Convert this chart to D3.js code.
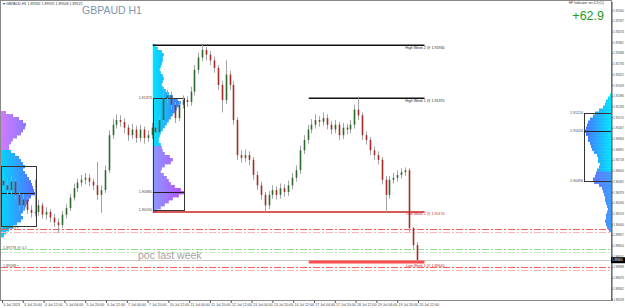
<!DOCTYPE html>
<html><head><meta charset="utf-8">
<script src="https://cdn.jsdelivr.net/npm/d3@7/dist/d3.min.js"></script>
<style>body{margin:0;background:#fff}svg{display:block;font-family:"Liberation Sans",Arial,sans-serif}</style>
</head><body><svg id="c" width="625" height="308"></svg>
<script>
// ---- data (3-hour aggregated H1 candles, GBPAUD) ----
const firstOpen = 1.9050;
const closes = [1.9045,1.9040,1.9049,1.9035,1.9024,1.9030,1.9019,1.9016,1.9017,1.9024,
1.9014,1.9017,1.9011,1.9006,1.9003,1.9014,1.9021,1.9032,1.9042,1.9048,
1.9051,1.9053,1.9049,1.9045,1.9035,1.9040,1.9061,1.9098,1.9109,1.9114,
1.9112,1.9106,1.9098,1.9104,1.9095,1.9104,1.9095,1.9098,1.9106,1.9101,
1.9114,1.9137,1.9140,1.9130,1.9116,1.9130,1.9135,1.9133,1.9144,1.9167,
1.9180,1.9188,1.9183,1.9177,1.9169,1.9151,1.9135,1.9162,1.9151,1.9114,
1.9077,1.9074,1.9077,1.9072,1.9056,1.9045,1.9035,1.9024,1.9035,1.9040,
1.9035,1.9042,1.9038,1.9045,1.9053,1.9061,1.9082,1.9093,1.9104,1.9109,
1.9114,1.9112,1.9116,1.9109,1.9104,1.9109,1.9098,1.9106,1.9104,1.9109,
1.9125,1.9119,1.9098,1.9093,1.9082,1.9077,1.9072,1.9051,1.9035,1.9051,
1.9053,1.9056,1.9059,1.9061,1.9000,1.8982,1.8966];
const highs = [1.9058,1.9053,1.9055,1.9052,1.9038,1.9036,1.9033,1.9024,1.9051,1.9030,
1.9027,1.9022,1.9020,1.9015,1.9010,1.9018,1.9025,1.9036,1.9047,1.9052,
1.9056,1.9058,1.9057,1.9052,1.9070,1.9045,1.9066,1.9103,1.9115,1.9120,
1.9119,1.9116,1.9109,1.9110,1.9108,1.9109,1.9107,1.9103,1.9111,1.9110,
1.9119,1.9149,1.9146,1.9144,1.9133,1.9134,1.9140,1.9139,1.9149,1.9172,
1.9185,1.9193,1.9191,1.9187,1.9181,1.9172,1.9155,1.9177,1.9166,1.9155,
1.9117,1.9082,1.9083,1.9081,1.9075,1.9060,1.9049,1.9038,1.9039,1.9045,
1.9044,1.9047,1.9046,1.9050,1.9058,1.9066,1.9087,1.9098,1.9109,1.9115,
1.9120,1.9118,1.9122,1.9120,1.9113,1.9114,1.9112,1.9111,1.9110,1.9114,
1.9130,1.9137,1.9122,1.9102,1.9096,1.9086,1.9081,1.9075,1.9055,1.9055,
1.9058,1.9061,1.9063,1.9064,1.9063,1.9001,1.8985];
const lows = [1.9040,1.9035,1.9036,1.9031,1.9019,1.9020,1.9015,1.9011,1.9012,1.9013,
1.9010,1.9009,1.9006,1.9001,1.8995,1.9000,1.9010,1.9018,1.9029,1.9038,
1.9044,1.9046,1.9044,1.9040,1.9030,1.9016,1.9037,1.9058,1.9094,1.9105,
1.9107,1.9100,1.9092,1.9094,1.9090,1.9091,1.9089,1.9091,1.9094,1.9096,
1.9098,1.9111,1.9132,1.9125,1.9111,1.9113,1.9126,1.9128,1.9129,1.9140,
1.9163,1.9176,1.9177,1.9172,1.9164,1.9146,1.9122,1.9131,1.9146,1.9109,
1.9072,1.9069,1.9070,1.9066,1.9051,1.9040,1.9030,1.9017,1.9020,1.9031,
1.9030,1.9031,1.9033,1.9034,1.9041,1.9049,1.9057,1.9078,1.9089,1.9100,
1.9105,1.9107,1.9108,1.9104,1.9099,1.9100,1.9093,1.9094,1.9099,1.9100,
1.9105,1.9114,1.9093,1.9088,1.9077,1.9072,1.9067,1.9046,1.9017,1.9031,
1.9047,1.9049,1.9052,1.9055,1.8996,1.8977,1.8964];
const barsPerCandle = 3;

const timeLabels = ["3 Jul 2023","3 Jul 20:00","4 Jul 12:00","5 Jul 04:00","5 Jul 20:00","6 Jul 12:00",
"7 Jul 04:00","7 Jul 20:00","10 Jul 12:00","11 Jul 04:00","11 Jul 20:00","12 Jul 12:00","13 Jul 04:00",
"13 Jul 20:00","14 Jul 12:00","17 Jul 04:00","17 Jul 20:00","18 Jul 12:00","19 Jul 04:00","19 Jul 20:00","20 Jul 12:00"];
const priceTicks = [1.92300,1.92187,1.92074,1.91961,1.91848,1.91735,1.91622,1.91509,1.91396,1.91283,
1.91170,1.91057,1.90944,1.90831,1.90718,1.90605,1.90492,1.90379,1.90266,1.90153,1.90040,1.89927,
1.89814,1.89701,1.89588,1.89475,1.89362,1.89249];

const levelNames = ["High Week 2","High Week 1","Low Week 2","Low Week 1"];
const levelPrices = [1.91930,1.91370,1.90170,1.89640];
const levelStartBars = [116,236,116,236];
const levelEndBar = 325;

const dashPrices = [1.89989,1.89958,1.89778,1.89746,1.89588,1.89556];
const dashLabels = ["1.89989 ▪","","1.89778 @ 0.5","","1.89588 ▪",""];

// volume profiles
const leftProfTop = 1.91235, leftProfBottom = 1.89905;
const leftProfVol = [5,12,18,22,25,24,22,20,16,12,10,8,8,10,14,18,20,22,24,22,24,26,28,30,31,32,33,34,30,28,26,25,24,22,20,22,20,16,12,8,5,3];
const midProfTop = 1.91943, midProfBottom = 1.90169;
const midProfVol = [3,5,9,11,10,10,9,8,7,8,10,11,10,9,10,13,16,20,25,28,26,24,22,20,18,16,14,12,10,8,7,6,6,8,9,10,12,17,20,18,12,9,8,11,14,16,18,22,28,31,26,20,16,12,8,4];
const rightProfTop = 1.91420, rightProfBottom = 1.89963;
const rightProfVol = [1,3,5,6,8,12,16,18,21,23,24,25,27,25,23,23,21,20,19,17,14,13,13,11,12,14,15,16,18,17,12,9,8,7,6,6,5,4,3,4,5,5,6,5,4,2];

const boxBars = [[-1,26],[116,140]];
const boxPrices = [[1.90650,1.90015],[1.91373,1.90190]];
const boxPocs = [1.90365,1.90380];
const rightBox = [1.91214,1.90496]; const rightBoxPoc = 1.91024;

// ---- drawing ----
const svg = d3.select("#c");
const plotR = 611, plotB = 300;
const x = d3.scaleLinear().domain([0,320]).range([2,418]);
const y = d3.scaleLinear().domain([1.89240,1.92386]).range([300,2]);
const fmt = d3.format(".5f");
const TF = 3.6; // tiny font
const AF = 2.95; // axis font

const defs = svg.append("defs");
function grad(id, x1, x2, c1, c2){
  const g = defs.append("linearGradient").attr("id",id).attr("gradientUnits","userSpaceOnUse")
    .attr("x1",x1).attr("x2",x2).attr("y1",0).attr("y2",0);
  g.append("stop").attr("offset","0").attr("stop-color",c1);
  g.append("stop").attr("offset","1").attr("stop-color",c2);
}
grad("gLU",0,26,"#d27bff","#8a78ff");
grad("gLL",0,34,"#00d8ff","#5a6cff");
grad("gMU",152,180,"#00e8ff","#3a7cff");
grad("gML",152,184,"#8a9cff","#b84cff");
grad("gRU",584,611,"#4a6cff","#00e5ff");
grad("gRL",590,611,"#6a6cff","#3a9cff");

const wv = d3.scaleLinear().domain([0,1]).range([0,1]);

function profile(top,bottom,vols,anchor,dir,gUp,gLow,split){
  const y0 = y(top), y1 = y(bottom), rh = (y1-y0)/vols.length;
  svg.append("g").selectAll("rect").data(vols).join("rect")
    .attr("x",d=> dir>0 ? anchor : anchor - wv(d))
    .attr("y",(d,i)=> y0 + i*rh)
    .attr("width",d=>wv(d))
    .attr("height",rh+0.4)
    .attr("fill",(d,i)=> (i/vols.length) < split ? `url(#${gUp})` : `url(#${gLow})`);
}
profile(leftProfTop,leftProfBottom,leftProfVol,1,1,"gLU","gLL",0.3);
profile(midProfTop,midProfBottom,midProfVol,x(116),1,"gMU","gML",0.59);
profile(rightProfTop,rightProfBottom,rightProfVol,plotR,-1,"gRU","gRL",0.55);

// boxes
boxBars.forEach((b,k)=>{
  const x0 = Math.max(x(b[0]),1), x1 = x(b[1]);
  svg.append("rect").attr("x",Math.round(x0)+0.5).attr("y",Math.round(y(boxPrices[k][0]))+0.5)
    .attr("width",Math.round(x1-x0)).attr("height",Math.round(y(boxPrices[k][1])-y(boxPrices[k][0])))
    .attr("fill","none").attr("stroke","#333").attr("stroke-width",1);
  svg.append("line").attr("x1",x0).attr("x2",x1).attr("y1",Math.round(y(boxPocs[k]))+0.5).attr("y2",Math.round(y(boxPocs[k]))+0.5)
    .attr("stroke","#222").attr("stroke-width",1);
  if(k===1){
    [boxPrices[k][0],boxPocs[k],boxPrices[k][1]].forEach(p=>{
      svg.append("text").attr("x",x0-1).attr("y",y(p)+1.3).attr("text-anchor","end")
        .attr("font-size",TF).attr("fill","#444").text(fmt(p));
    });
  }
});
// right box
{
  const x0 = 584;
  svg.append("rect").attr("x",x0+0.5).attr("y",Math.round(y(rightBox[0]))+0.5).attr("width",plotR-x0)
    .attr("height",Math.round(y(rightBox[1])-y(rightBox[0]))).attr("fill","none").attr("stroke","#333");
  svg.append("line").attr("x1",x0).attr("x2",plotR).attr("y1",Math.round(y(rightBoxPoc))+0.5).attr("y2",Math.round(y(rightBoxPoc))+0.5).attr("stroke","#222");
  [rightBox[0],rightBoxPoc,rightBox[1]].forEach(p=>{
    svg.append("text").attr("x",x0-1).attr("y",y(p)+1.3).attr("text-anchor","end")
      .attr("font-size",TF).attr("fill","#444").text(fmt(p));
  });
}

// dash-dot lines
const dashCols = ["#ff5a5a","#ffb3b3","#8fdc8f","#c6ecc6","#ff5a5a","#ffb3b3"];
dashPrices.forEach((p,i)=>{
  svg.append("line").attr("x1",1).attr("x2",plotR).attr("y1",Math.round(y(p))+0.5).attr("y2",Math.round(y(p))+0.5)
    .attr("stroke",dashCols[i]).attr("stroke-width",1).attr("stroke-dasharray","7,2,2,2");
  if(dashLabels[i]) svg.append("text").attr("x",3).attr("y",y(p)).attr("font-size",TF).attr("fill","#555").text(dashLabels[i]);
});

// current price line
const last = closes[closes.length-1];
svg.append("line").attr("x1",1).attr("x2",plotR).attr("y1",Math.round(y(last))+0.5).attr("y2",Math.round(y(last))+0.5)
  .attr("stroke","#c8c8c8").attr("stroke-width",1);

// week levels
const lvlStroke = ["#111","#111","#cc2020","#ff4d4d"], lvlW = [1.6,1.6,1.5,3];
levelPrices.forEach((p,i)=>{
  const yy = y(p);
  svg.append("line").attr("x1",x(levelStartBars[i])).attr("x2",x(levelEndBar)).attr("y1",yy).attr("y2",yy)
    .attr("stroke",lvlStroke[i]).attr("stroke-width",lvlW[i]);
  svg.append("text").attr("x",x(levelEndBar)+20).attr("y",yy+ (i===3?4.5:3.5)).attr("text-anchor","end")
    .attr("font-size",TF).attr("fill", i<2 ? "#222" : "#d02020").text(`${levelNames[i]} @ ${fmt(p)}`);
});

// candles
const candles = closes.map((c,i)=>({o: i===0?firstOpen:closes[i-1], c, h:highs[i], l:lows[i], bar:i*barsPerCandle+1}));
const cg = svg.append("g");
cg.selectAll("line").data(candles).join("line")
  .attr("x1",d=>Math.round(x(d.bar))+0.5).attr("x2",d=>Math.round(x(d.bar))+0.5)
  .attr("y1",d=>y(d.h)).attr("y2",d=>y(d.l)).attr("stroke","#a3a3a3").attr("stroke-width",1);
cg.selectAll("rect").data(candles).join("rect")
  .attr("x",d=>Math.round(x(d.bar))-0.3).attr("width",1.6)
  .attr("y",d=>y(Math.max(d.o,d.c))).attr("height",d=>Math.max(0.8,Math.abs(y(d.o)-y(d.c))))
  .attr("fill",d=>d.c>=d.o?"#2d6b2d":"#a82a2a");

// frame
svg.append("rect").attr("x",0.5).attr("y",0.5).attr("width",plotR).attr("height",plotB)
  .attr("fill","none").attr("stroke","#888");

// right axis
const ya = svg.append("g").attr("transform",`translate(${plotR+0.5},0)`)
  .call(d3.axisRight(y).tickValues(priceTicks).tickFormat(fmt).tickSize(1.2).tickPadding(0.5));
ya.select(".domain").attr("stroke","#555");
ya.selectAll(".tick line").attr("stroke","#555");
ya.selectAll("text").attr("font-size",AF).attr("fill","#444").attr("font-family","Liberation Sans, Arial");

// bottom axis
const labelBars = timeLabels.map((t,i)=>i*16);
const xa = svg.append("g").attr("transform",`translate(0,${plotB+0.5})`)
  .call(d3.axisBottom(x).tickValues(labelBars).tickFormat((d,i)=>timeLabels[i]).tickSize(2.5).tickPadding(0.5));
xa.select(".domain").remove();
xa.selectAll(".tick line").attr("stroke","#555");
xa.selectAll("text").attr("font-size",TF).attr("fill","#444").attr("text-anchor","start").attr("dx",0.8).attr("font-family","Liberation Sans, Arial");

// current price tag
svg.append("rect").attr("x",plotR).attr("y",y(last)-3).attr("width",14).attr("height",6).attr("fill","#000");
svg.append("text").attr("x",plotR+1).attr("y",y(last)+1.2).attr("font-size",AF).attr("fill","#fff").text(fmt(last));

// texts
svg.append("text").attr("x",3).attr("y",4.6).attr("font-size",TF).attr("fill","#333")
  .text("▾ GBPAUD,H1  1.89582 1.89595 1.89508 1.89522");
svg.append("text").attr("x",82).attr("y",13.5).attr("font-size",10.5).attr("fill","#8195ad").text("GBPAUD H1");
svg.append("text").attr("x",604).attr("y",4.3).attr("text-anchor","end").attr("font-size",3.4).attr("fill","#333").text("HP Indicator ver.4.3 (C)");
svg.append("text").attr("x",604).attr("y",20).attr("text-anchor","end").attr("font-size",12.5).attr("fill","#1f9a1f").text("+62.9");
svg.append("text").attr("x",138).attr("y",259).attr("font-size",10.5).attr("fill","#a3a3a3").text("poc last week");
</script></body></html>
